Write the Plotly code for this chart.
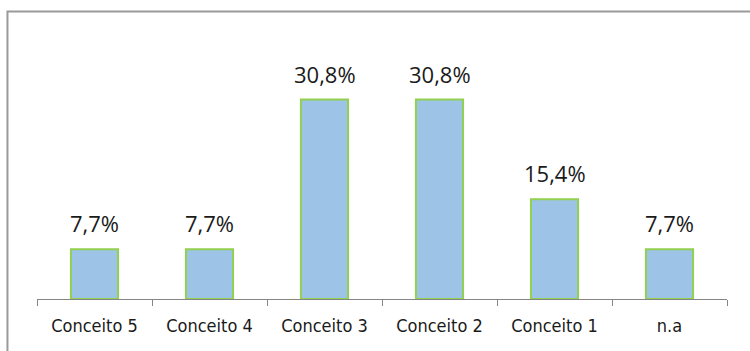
import plotly.graph_objects as go

categorias = ["Conceito 5", "Conceito 4", "Conceito 3", "Conceito 2", "Conceito 1", "n.a"]
valores = [7.7, 7.7, 30.8, 30.8, 15.4, 7.7]
rotulos = ["7,7%", "7,7%", "30,8%", "30,8%", "15,4%", "7,7%"]

fig = go.Figure()

fig.add_trace(
    go.Bar(
        x=categorias,
        y=valores,
        marker=dict(
            color="#9DC3E6",
            line=dict(color="#92D050", width=2)
        ),
        hoverinfo="skip"
    )
)

# rótulos de valor acima das barras
for c, v, t in zip(categorias, valores, rotulos):
    fig.add_annotation(
        x=c, y=v, text=t,
        showarrow=False,
        yanchor="bottom",
        yshift=9,
        font=dict(family="Open Sans", size=22, color="#1a1a1a")
    )

fig.update_layout(
    width=750,
    height=351,
    plot_bgcolor="white",
    paper_bgcolor="white",
    showlegend=False,
    bargap=0.59,
    margin=dict(l=37, r=23, t=40, b=52),
    shapes=[
        dict(
            type="rect", xref="paper", yref="paper",
            x0=-0.0428, x1=1.2, y0=-0.4, y1=1.11,
            line=dict(color="#9a9a9a", width=2),
            fillcolor="rgba(0,0,0,0)"
        )
    ]
)

fig.update_xaxes(
    showline=True,
    linecolor="#868686",
    linewidth=1,
    ticks="outside",
    tickson="boundaries",
    ticklen=6,
    tickcolor="#868686",
    ticklabelstandoff=10,
    tickfont=dict(family="DejaVu Sans Condensed", size=18, color="#1a1a1a"),
    showgrid=False
)

fig.update_yaxes(
    range=[0, 40],
    visible=False,
    showgrid=False
)

fig.write_html(
    "out.html",
    config={"displayModeBar": False},
    post_script="document.body.style.margin='0';"
)
